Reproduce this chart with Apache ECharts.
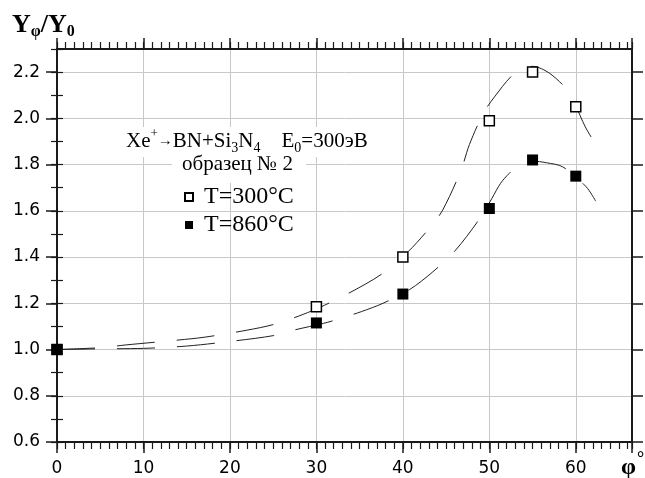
<!DOCTYPE html>
<html>
<head>
<meta charset="utf-8">
<title>Y_phi / Y_0</title>
<script src="https://cdn.jsdelivr.net/npm/echarts@6/dist/echarts.min.js"></script>
<style>
  html, body { margin: 0; padding: 0; background: #fff; }
  #chart { width: 645px; height: 478px; }
</style>
</head>
<body>
<div id="chart"></div>
<script>
  // tick labels
  var xTicks = [0, 10, 20, 30, 40, 50, 60]
  var yTicks = [0.6, 0.8, 1.0, 1.2, 1.4, 1.6, 1.8, 2.0, 2.2]

  // measured points (angle, Y_phi/Y_0)
  var phi = [0, 30, 40, 50, 55, 60]
  var ratio300 = [1.0, 1.185, 1.40, 1.99, 2.20, 2.05]
  var ratio860 = [1.0, 1.115, 1.24, 1.61, 1.82, 1.75]

  // dashed fit curves
  var fitPhi300 = [0, 5, 8, 14, 17, 22, 25.2, 29.4, 33.5, 37.5, 40.6, 43.2, 44.6, 46.7, 47.7, 49.3, 50.6, 52.9, 55, 57, 59.2, 61.1, 62.3]
  var fitRatio300 = [1.0, 1.008, 1.02, 1.041, 1.053, 1.084, 1.11, 1.166, 1.239, 1.325, 1.423, 1.531, 1.603, 1.773, 1.887, 2.021, 2.093, 2.194, 2.225, 2.194, 2.112, 1.963, 1.887]
  var fitPhi860 = [0, 5, 10, 15, 20, 25, 27.5, 30.8, 32.5, 35.2, 37.7, 40.8, 43.4, 46.1, 48.9, 50.3, 51.3, 52.3, 53.5, 55, 56.6, 58.5, 61.2, 62.3]
  var fitRatio860 = [1.0, 1.003, 1.005, 1.015, 1.035, 1.06, 1.085, 1.113, 1.131, 1.164, 1.2, 1.26, 1.334, 1.43, 1.567, 1.654, 1.719, 1.762, 1.801, 1.815, 1.808, 1.79, 1.704, 1.642]

  function pairs (xs, ys) {
    return xs.map(function (x, i) { return [x, ys[i]] })
  }

  var serif = 'Liberation Serif, Times New Roman, serif'
  var ink = '#1a1a1a'
  var gridGray = '#c8c8c8'

  var chart = echarts.init(document.getElementById('chart'))

  var xRange = { min: 0, max: 66.5 }
  var yRange = { min: 0.6, max: 2.3 }

  // major axis: line + long ticks (+ labels on bottom/left)
  function majorX (pos, labels) {
    return Object.assign({
      type: 'value', position: pos, interval: 10,
      axisLine: { show: true, onZero: false, lineStyle: { color: ink, width: 2 } },
      axisTick: { show: true, length: 11, lineStyle: { color: ink, width: 1.5 } },
      axisLabel: {
        show: labels, margin: 18, color: '#000', fontSize: 17, fontFamily: 'DejaVu Sans',
        customValues: xTicks,
        formatter: function (v) { return v % 10 === 0 ? String(v) : '' }
      },
      splitLine: { show: labels, lineStyle: { color: gridGray, width: 1 } }
    }, xRange)
  }
  function minorX (pos) {
    return Object.assign({
      type: 'value', position: pos, interval: 1,
      axisLine: { show: false },
      axisTick: { show: true, length: 7, lineStyle: { color: ink, width: 1.2 } },
      axisLabel: { show: false },
      splitLine: { show: false }
    }, xRange)
  }
  function majorY (pos, labels) {
    return Object.assign({
      type: 'value', position: pos, interval: 0.2,
      axisLine: { show: true, onZero: false, lineStyle: { color: ink, width: 2 } },
      axisTick: { show: true, length: 11, customValues: yTicks, lineStyle: { color: ink, width: 1.5 } },
      axisLabel: {
        show: labels, margin: 17, color: '#000', fontSize: 17, fontFamily: 'DejaVu Sans',
        customValues: yTicks,
        formatter: function (v) { return v.toFixed(1) }
      },
      splitLine: { show: labels, lineStyle: { color: gridGray, width: 1 } }
    }, yRange)
  }
  function minorY (pos) {
    return Object.assign({
      type: 'value', position: pos, interval: 0.1,
      axisLine: { show: false },
      axisTick: { show: true, length: 6, lineStyle: { color: ink, width: 1.2 } },
      axisLabel: { show: false },
      splitLine: { show: false }
    }, yRange)
  }

  chart.setOption({
    animation: false,
    backgroundColor: '#fff',
    grid: { left: 57, right: 13, top: 49, bottom: 36 },
    xAxis: [majorX('bottom', true), minorX('bottom'), majorX('top', false), minorX('top')],
    yAxis: [majorY('left', true), minorY('left'), majorY('right', false), minorY('right')],
    legend: {
      orient: 'vertical',
      left: 172,
      top: 181,
      padding: [4, 10, 4, 12],
      itemGap: 4,
      itemWidth: 8,
      itemHeight: 8,
      icon: 'rect',
      data: ['T=300°C', 'T=860°C'],
      formatter: function (name) { return ' ' + name },
      textStyle: { fontFamily: serif, fontSize: 24, lineHeight: 24, color: '#000' }
    },
    graphic: [
      // white boxes behind the caption
      { type: 'rect', z: 3, shape: { x: 122, y: 127, width: 254, height: 30 }, style: { fill: '#fff' } },
      { type: 'rect', z: 3, shape: { x: 172, y: 157, width: 134, height: 26 }, style: { fill: '#fff' } },
      {
        type: 'text', z: 5, left: 126, top: 127,
        style: {
          text: '{b|Xe}{sup|+}{ar|→}{b|BN+Si}{sub|3}{b|N}{sub|4}{b|    E}{sub|0}{b|=300эВ}',
          fill: '#000',
          rich: {
            b: { fontFamily: serif, fontSize: 21, lineHeight: 28 },
            sup: { fontFamily: serif, fontSize: 13, lineHeight: 13, verticalAlign: 'top' },
            ar: { fontFamily: serif, fontSize: 15, lineHeight: 28, verticalAlign: 'middle' },
            sub: { fontFamily: serif, fontSize: 14, lineHeight: 18, verticalAlign: 'bottom' }
          }
        }
      },
      {
        type: 'text', z: 5, left: 182, top: 154,
        style: { text: 'образец № 2', fill: '#000', font: '21px ' + serif }
      },
      // axis names
      {
        type: 'text', z: 5, left: 12, top: 12,
        style: {
          text: '{b|Y}{s|φ}{b|/Y}{s|0}',
          fill: '#000',
          rich: {
            b: { fontFamily: serif, fontWeight: 'bold', fontSize: 26, lineHeight: 30 },
            s: { fontFamily: serif, fontWeight: 'bold', fontSize: 16, lineHeight: 20, verticalAlign: 'bottom' }
          }
        }
      },
      {
        type: 'text', z: 5, left: 621, top: 456,
        style: { text: 'φ', fill: '#000', font: 'bold 24px ' + serif }
      },
      {
        type: 'text', z: 5, left: 637, top: 450,
        style: { text: '°', fill: '#000', font: 'bold 18px ' + serif }
      }
    ],
    series: [
      {
        name: 'fit300', type: 'line', smooth: 0.3, symbol: 'none', silent: true,
        data: pairs(fitPhi300, fitRatio300),
        lineStyle: { color: '#222', width: 1, type: [38, 22] }
      },
      {
        name: 'fit860', type: 'line', smooth: 0.3, symbol: 'none', silent: true,
        data: pairs(fitPhi860, fitRatio860),
        lineStyle: { color: '#222', width: 1, type: [38, 22] }
      },
      {
        name: 'T=300°C', type: 'scatter', symbol: 'rect', symbolSize: 10, z: 6,
        data: pairs(phi, ratio300),
        itemStyle: { color: '#fff', borderColor: '#000', borderWidth: 1.5, opacity: 1 }
      },
      {
        name: 'T=860°C', type: 'scatter', symbol: 'rect', symbolSize: 11, z: 7,
        data: pairs(phi, ratio860),
        itemStyle: { color: '#000', borderColor: '#000', borderWidth: 0, opacity: 1 }
      }
    ]
  })
</script>
</body>
</html>
